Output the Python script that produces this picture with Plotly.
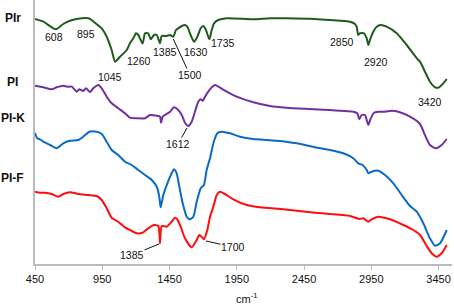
import plotly.graph_objects as go

# ---- data (wavenumber cm^-1, offset transmittance a.u.) ----
pir_wn = [450, 512, 606, 660, 710, 760, 846, 871, 909, 946, 983, 1020, 1045, 1082, 1132, 1156, 1181, 1201, 1218,
          1250, 1268, 1292, 1310, 1335, 1355, 1379, 1392, 1429, 1454, 1478, 1498, 1515, 1541, 1565, 1582, 1607, 1632,
          1657, 1682, 1701, 1721, 1746, 1764, 1781, 1813, 1875, 2073, 2197, 2321, 2532, 2643, 2792, 2829, 2841, 2853,
          2866, 2896, 2916, 2928, 2940, 2965, 2990, 3020, 3064, 3139, 3213, 3288, 3312, 3349, 3386, 3424, 3448, 3481, 3511]
pir_val = [245, 242.3, 234.7, 240, 243.3, 245, 245.7, 244, 239.7, 235.7, 227.3, 214, 202.3, 207.3, 214, 220.7, 225.7, 230.7, 229,
           220.5, 230.7, 230.7, 224.7, 229, 229, 220.7, 228, 228, 229, 227.3, 234, 235.7, 238, 239, 237.3, 229, 222.3,
           227.3, 235.7, 238, 234, 224.7, 234, 240.7, 244, 245.7, 244.7, 245.7, 245.7, 245, 244, 242.3, 240, 237.3, 229,
           230.7, 230.7, 225.7, 219, 224, 232.3, 237.3, 239, 237.3, 230.7, 219, 205.7, 202.3, 192.3, 182.3, 176.7, 176.3, 180, 185]

pi_wn = [450, 512, 574, 611, 660, 690, 723, 760, 779, 809, 829, 859, 883, 921, 946, 983, 1020, 1069, 1119, 1156, 1206,
         1268, 1305, 1355, 1379, 1387, 1399, 1454, 1483, 1515, 1541, 1565, 1590, 1615, 1639, 1664, 1682, 1697, 1714,
         1738, 1764, 1788, 1813, 1862, 1949, 2073, 2197, 2321, 2532, 2816, 2846, 2861, 2878, 2903, 2928, 2946, 2970,
         3002, 3052, 3102, 3151, 3238, 3312, 3349, 3386, 3431, 3473, 3511]
pi_val = [178.3, 176.7, 174.7, 176.7, 178.3, 177.3, 177.3, 172.3, 174.7, 173, 175.7, 172, 175.7, 179, 175.7, 167.3, 160.7, 155.7, 150.7, 146.3, 145.7,
          145.7, 149, 148.3, 147.3, 141.3, 147.3, 152.3, 156.7, 154, 149, 141.3, 138, 142.3, 152.3, 162.3, 164.7, 163.3, 167.3,
          172.3, 176.7, 179, 177.3, 173.3, 167.3, 161.7, 158, 156.3, 154.7, 152.3, 150.7, 144.7, 149, 149, 139, 145.7, 151.3,
          152.3, 152.3, 153.3, 152.3, 147.3, 140, 129, 119, 115.7, 119, 125]

pik_wn = [450, 467, 487, 512, 562, 611, 660, 710, 772, 809, 854, 909, 946, 983, 1020, 1069, 1119, 1169, 1218, 1268,
          1318, 1355, 1374, 1384, 1404, 1434, 1466, 1483, 1503, 1523, 1548, 1578, 1602, 1627, 1652, 1682, 1706, 1726,
          1751, 1776, 1805, 1838, 1900, 1974, 2073, 2247, 2395, 2532, 2643, 2742, 2816, 2853, 2886, 2916, 2928, 2953,
          3002, 3052, 3114, 3176, 3238, 3288, 3337, 3386, 3424, 3461, 3511]
pik_val = [131.3, 125.7, 124.7, 122.3, 119, 115.7, 120.7, 123.3, 124, 127.3, 132.3, 132.3, 130, 122.3, 114, 109, 102.3, 99, 94, 89,
           84, 77.3, 67.3, 56.7, 69, 80.7, 90.7, 94.7, 90.7, 77.3, 60.7, 47.3, 44.7, 47.3, 62.3, 75.7, 79, 94,
           105.7, 120.7, 130.7, 132.3, 130.7, 127.3, 125, 123.3, 120.7, 116.7, 114, 110.7, 105.7, 100.7, 99, 94, 90.7, 92.3,
           93.3, 89, 80.7, 69, 58, 52.3, 40.7, 25.7, 18.3, 20.7, 34]

pif_wn = [450, 487, 524, 574, 623, 660, 710, 772, 846, 909, 946, 983, 1020, 1069, 1119, 1156, 1206, 1255, 1292, 1335,
          1367, 1379, 1392, 1429, 1466, 1491, 1508, 1533, 1565, 1615, 1652, 1671, 1689, 1706, 1731, 1751, 1776, 1801,
          1825, 1862, 1924, 2024, 2123, 2296, 2532, 2643, 2792, 2861, 2891, 2928, 2953, 3002, 3089, 3188, 3262, 3312,
          3362, 3399, 3436, 3473, 3511]
pif_val = [72.3, 71.3, 71.3, 70, 67.3, 70, 71.7, 70, 69, 68, 64, 55.7, 46.3, 42.3, 36.7, 34, 30.7, 31.7, 35.7, 39,
           38, 20.7, 38, 37.3, 42.3, 46.2, 44.7, 37.3, 25.7, 16.7, 24, 29, 27.3, 24.7, 34, 47.3, 57.3, 69,
           72.3, 70, 64.7, 59, 56.7, 54.7, 51.3, 50, 48, 45, 45.7, 42.3, 44.7, 47.3, 44.7, 39, 34, 29,
           18, 10.7, 7.3, 10.7, 19]

tick_vals = [450, 950, 1450, 1950, 2450, 2950, 3450]
tick_text = ["450", "950", "1450", "1950", "2450", "2950", "3450"]

series = [
    ("PIr", pir_wn, pir_val, "#1F5C1C"),
    ("PI", pi_wn, pi_val, "#7030A0"),
    ("PI-K", pik_wn, pik_val, "#0A6AC4"),
    ("PI-F", pif_wn, pif_val, "#FF0D0D"),
]

# peak labels: (text, x, y) ; arrows: (text, tip_x, tip_y, label_x, label_y)
peak_labels = [("608", 591, 227), ("895", 829, 230), ("1045", 1011, 187), ("1260", 1221, 203),
               ("1385", 1416, 212), ("1630", 1647, 212), ("1735", 1848, 221), ("2850", 2732, 222),
               ("2920", 2985, 202), ("3420", 3386, 162)]
arrow_labels = [("1500", 1478, 225, 1602, 189), ("1612", 1580, 136, 1513, 120),
                ("1385", 1372, 20, 1171, 9), ("1700", 1721, 23, 1922, 17)]
series_labels = [("PIr", 0.932), ("PI", 0.689), ("PI-K", 0.553), ("PI-F", 0.326)]

fig = go.Figure()
for name, xs, ys, col in series:
    fig.add_trace(go.Scatter(x=xs, y=ys, mode="lines", name=name,
                             line=dict(color=col, width=2, shape="spline", smoothing=0.6)))

font_lbl = dict(family="Liberation Sans, Arial, sans-serif", size=10.5, color="#111111")
ann = []
for t, x, y in peak_labels:
    ann.append(dict(x=x, y=y, text=t, showarrow=False, font=font_lbl, xref="x", yref="y",
                    xanchor="center", yanchor="middle"))
for t, tx, ty, lx, ly in arrow_labels:
    ann.append(dict(x=tx, y=ty, ax=lx, ay=ly, axref="x", ayref="y", xref="x", yref="y", text=t,
                    showarrow=True, arrowhead=0, arrowwidth=1, arrowcolor="#111111", font=font_lbl,
                    standoff=0, borderpad=0))
for t, yp in series_labels:
    ann.append(dict(x=-0.053, y=yp, xref="paper", yref="paper", text="<b>" + t + "</b>", showarrow=False,
                    xanchor="center", yanchor="middle",
                    font=dict(family="Liberation Sans, Arial, sans-serif", size=12, color="#111111")))
ann.append(dict(x=0.508, y=-0.13, xref="paper", yref="paper", text="cm<sup>-1</sup>", showarrow=False,
                xanchor="center", yanchor="middle",
                font=dict(family="Liberation Sans, Arial, sans-serif", size=11, color="#111111")))

fig.update_layout(
    width=454, height=305,
    margin=dict(l=35, r=2, t=0, b=41),
    paper_bgcolor="white", plot_bgcolor="white",
    showlegend=False,
    annotations=ann,
    xaxis=dict(range=[450, 3550], tickvals=tick_vals, ticktext=tick_text, showgrid=False, zeroline=False,
               showline=True, linecolor="#BBBBBB", linewidth=1.5, ticks="outside", ticklen=4,
               tickcolor="#BBBBBB", tickfont=dict(family="Liberation Sans, Arial, sans-serif", size=11, color="#111111")),
    yaxis=dict(range=[0, 264], showticklabels=False, showgrid=False, zeroline=False,
               showline=True, linecolor="#BBBBBB", linewidth=1.5, ticks=""),
)

fig.write_html("out.html", config={"displayModeBar": False},
               post_script="document.body.style.margin='0';document.body.style.overflow='hidden';")
